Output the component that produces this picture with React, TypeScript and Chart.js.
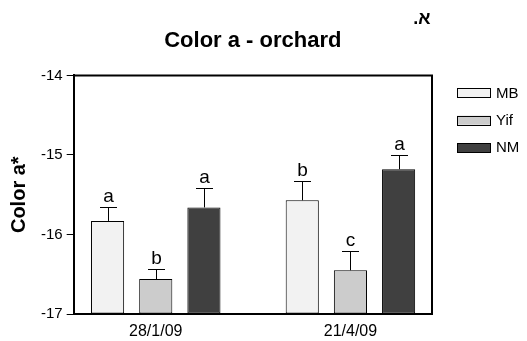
import React, { useEffect, useRef } from "react";
import { Chart, registerables } from "chart.js";

Chart.register(...registerables);

const categories = ["28/1/09", "21/4/09"];
const seriesNames = ["MB", "Yif", "NM"];
const mbValues = [-15.83, -15.57];
const yifValues = [-16.56, -16.45];
const nmValues = [-15.66, -15.18];
const mbErrors = [0.18, 0.24];
const yifErrors = [0.12, 0.24];
const nmErrors = [0.24, 0.18];
const mbLetters = ["a", "b"];
const yifLetters = ["b", "c"];
const nmLetters = ["a", "a"];
const yTicks = [-17, -16, -15, -14];
const chartTitle = "Color a - orchard";
const yTitle = "Color a*";
const cornerMark = "א.";

const FONT = "'Liberation Sans', Arial, Helvetica, sans-serif";

const extrasPlugin = {
  id: "extras",
  afterDatasetsDraw(chart: any) {
    const ctx = chart.ctx;
    const yScale = chart.scales.y;
    ctx.save();
    chart.data.datasets.forEach((ds: any, di: number) => {
      const meta = chart.getDatasetMeta(di);
      meta.data.forEach((bar: any, i: number) => {
        const v = ds.data[i].y;
        const top = yScale.getPixelForValue(v + ds.errors[i]);
        const x = Math.round(bar.x) + 0.5;
        const ty = Math.round(top) + 0.5;
        ctx.strokeStyle = "#000";
        ctx.lineWidth = 1;
        ctx.beginPath();
        ctx.moveTo(x, bar.y);
        ctx.lineTo(x, ty);
        ctx.moveTo(x - 8.5, ty);
        ctx.lineTo(x + 8.5, ty);
        ctx.stroke();
        ctx.fillStyle = "#000";
        ctx.font = `19px ${FONT}`;
        ctx.textAlign = "center";
        ctx.textBaseline = "alphabetic";
        ctx.fillText(ds.letters[i], x, top - 5);
      });
    });
    ctx.restore();
  },
  afterDraw(chart: any) {
    const ctx = chart.ctx;
    const a = chart.chartArea;
    ctx.save();
    ctx.strokeStyle = "#000";
    ctx.lineWidth = 2;
    ctx.beginPath();
    ctx.moveTo(a.left, a.top);
    ctx.lineTo(a.right, a.top);
    ctx.lineTo(a.right, a.bottom);
    ctx.stroke();
    chart.data.datasets.forEach((ds: any, i: number) => {
      const bx = a.right + 25;
      const cy = a.top + 17.5 + i * 27.3;
      ctx.fillStyle = ds.backgroundColor;
      ctx.fillRect(bx, cy - 4.5, 34, 9);
      ctx.strokeStyle = "#000";
      ctx.lineWidth = 1;
      ctx.strokeRect(bx + 0.5, Math.round(cy - 4.5) + 0.5, 33, 9);
      ctx.fillStyle = "#000";
      ctx.font = `15px ${FONT}`;
      ctx.textAlign = "left";
      ctx.textBaseline = "middle";
      ctx.fillText(ds.label, bx + 39, cy + 0.5);
    });
    ctx.font = `bold 18px ${FONT}`;
    ctx.textAlign = "center";
    ctx.textBaseline = "middle";
    ctx.fillStyle = "#000";
    ctx.fillText(cornerMark + "\u200F", 422, 19);
    ctx.restore();
  },
};

export default function App() {
  const canvasRef = useRef<HTMLCanvasElement | null>(null);

  useEffect(() => {
    document.body.style.margin = "0";
    const canvas = canvasRef.current;
    if (!canvas) return;
    const colors = ["#f2f2f2", "#cccccc", "#404040"];
    const values = [mbValues, yifValues, nmValues];
    const errors = [mbErrors, yifErrors, nmErrors];
    const letters = [mbLetters, yifLetters, nmLetters];
    const chart = new Chart(canvas, {
      type: "bar",
      data: {
        datasets: seriesNames.map((name, s) => ({
          label: name,
          data: categories.map((_, i) => ({ x: i, y: values[s][i] })),
          errors: errors[s],
          letters: letters[s],
          backgroundColor: colors[s],
          borderColor: "#000",
          borderWidth: 1,
          borderSkipped: false,
          base: yTicks[0],
          categoryPercentage: 0.7423,
          barPercentage: 0.6875,
        })) as any,
      },
      options: {
        responsive: false,
        animation: false,
        layout: { padding: { left: 0, right: 95, top: 0, bottom: 0 } },
        plugins: {
          legend: { display: false },
          tooltip: { enabled: false },
          title: {
            display: true,
            text: chartTitle,
            fullSize: false,
            color: "#000",
            font: { family: FONT, size: 22, weight: "bold" },
            padding: { top: 28, bottom: 21 },
          },
        },
        scales: {
          x: {
            type: "linear",
            offset: false,
            min: -0.4216,
            max: 1.419,
            afterBuildTicks: (scale: any) => {
              scale.ticks = categories.map((_, i) => ({ value: i }));
            },
            afterFit: (scale: any) => {
              scale.height = 27;
            },
            ticks: {
              callback: (v: any) => categories[v] ?? "",
              color: "#000",
              font: { family: FONT, size: 16 },
              padding: 8,
              maxRotation: 0,
            },
            grid: { display: false, drawTicks: false, offset: false },
            border: { display: true, color: "#000", width: 2 },
          },
          y: {
            min: yTicks[0],
            max: yTicks[yTicks.length - 1],
            afterBuildTicks: (scale: any) => {
              scale.ticks = yTicks.map((v) => ({ value: v }));
            },
            ticks: {
              color: "#000",
              font: { family: FONT, size: 15 },
              padding: 4,
            },
            grid: {
              drawOnChartArea: false,
              drawTicks: true,
              tickLength: 7,
              color: "#000",
              lineWidth: 1,
            },
            border: { display: true, color: "#000", width: 2 },
            title: {
              display: true,
              text: yTitle,
              color: "#000",
              font: { family: FONT, size: 20, weight: "bold" },
              padding: { top: 7, bottom: 6 },
            },
          },
        },
      },
      plugins: [extrasPlugin],
    });
    return () => chart.destroy();
  }, []);

  return (
    <div style={{ width: 527, height: 341 }}>
      <canvas ref={canvasRef} width={527} height={341} />
    </div>
  );
}
